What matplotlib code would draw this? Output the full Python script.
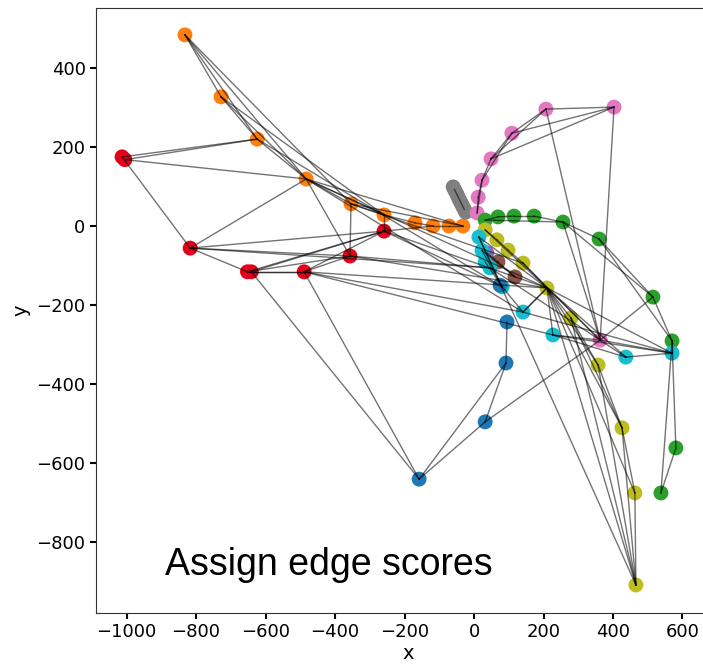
import numpy as np
import matplotlib.pyplot as plt

# node positions per track
orange_x = [-832, -728, -624, -483, -354, -259, -170, -118, -72, -32]
orange_y = [484, 327, 220, 119, 56, 28, 8, 0, 0, 0]
red_x = [-1013, -1005, -817, -652, -641, -489, -357, -259]
red_y = [175, 168, -56, -116, -116, -116, -76, -13]
gray_x = [-60, -56, -52, -48, -44, -40, -36, -32, -28, -24]
gray_y = [99, 92, 85, 78, 70, 63, 56, 49, 42, 35]
pink_x = [9, 12, 23, 49, 109, 207, 403, 363]
pink_y = [33, 73, 116, 170, 235, 296, 301, -289]
green_x = [32, 69, 115, 173, 256, 360, 515, 570, 581, 538]
green_y = [15, 23, 25, 25, 10, -33, -180, -291, -562, -676]
olive_x = [32, 66, 98, 141, 210, 279, 357, 426, 463, 466]
olive_y = [-10, -35, -61, -94, -157, -233, -352, -511, -676, -909]
brown_x = [69, 118]
brown_y = [-91, -129]
purple_x = [37]
purple_y = [-68]
cyan_x = [14, 23, 32, 46, 81, 141, 227, 437, 570]
cyan_y = [-28, -62, -91, -106, -154, -218, -276, -332, -322]
blue_x = [75, 95, 92, 32, -158]
blue_y = [-150, -243, -347, -496, -641]

tracks = {
    "O": (orange_x, orange_y, "tab:orange"),
    "R": (red_x, red_y, "#e3001b"),
    "G": (gray_x, gray_y, "tab:gray"),
    "P": (pink_x, pink_y, "tab:pink"),
    "N": (green_x, green_y, "tab:green"),
    "Y": (olive_x, olive_y, "tab:olive"),
    "B": (brown_x, brown_y, "tab:brown"),
    "U": (purple_x, purple_y, "tab:purple"),
    "C": (cyan_x, cyan_y, "tab:cyan"),
    "L": (blue_x, blue_y, "tab:blue"),
}

# candidate edges: (track, index, track, index)
edges = [
    ("O", 0, "O", 1), ("O", 0, "O", 2), ("O", 0, "O", 3), ("O", 0, "O", 4),
    ("O", 1, "O", 2), ("O", 1, "O", 3), ("O", 1, "O", 5), ("O", 2, "O", 3),
    ("O", 3, "O", 4), ("O", 3, "O", 5), ("O", 4, "O", 5), ("O", 5, "O", 6),
    ("O", 6, "O", 7), ("O", 7, "O", 8), ("O", 8, "O", 9), ("O", 3, "O", 9),
    ("O", 4, "O", 9), ("O", 3, "Y", 4), ("O", 3, "C", 5), ("O", 2, "C", 4),
    ("O", 4, "Y", 3), ("O", 3, "R", 6), ("O", 4, "R", 6),
    ("R", 0, "R", 2), ("R", 1, "O", 2), ("R", 0, "O", 2), ("R", 1, "O", 3),
    ("R", 2, "R", 3), ("R", 2, "O", 3), ("R", 2, "R", 7), ("R", 2, "R", 6),
    ("R", 2, "C", 3), ("R", 3, "R", 5), ("R", 4, "R", 5), ("R", 3, "R", 6),
    ("R", 3, "R", 7), ("R", 4, "R", 7), ("R", 5, "R", 6), ("R", 5, "R", 7),
    ("R", 5, "Y", 4), ("R", 5, "C", 5), ("R", 5, "C", 6), ("R", 5, "L", 4),
    ("R", 4, "L", 4), ("R", 6, "Y", 4), ("R", 7, "O", 5), ("R", 7, "O", 7),
    ("R", 7, "C", 4), ("R", 7, "Y", 4), ("R", 6, "C", 3),
    ("L", 4, "L", 3), ("L", 4, "L", 2), ("L", 3, "L", 2), ("L", 2, "L", 1),
    ("L", 3, "P", 7),
    ("G", 1, "G", 8),
    ("P", 0, "P", 1), ("P", 1, "P", 2), ("P", 2, "P", 3), ("P", 3, "P", 4),
    ("P", 4, "P", 5), ("P", 0, "P", 2), ("P", 2, "P", 4), ("P", 3, "P", 5),
    ("P", 3, "P", 6), ("P", 4, "P", 6), ("P", 5, "P", 6), ("P", 5, "P", 7),
    ("P", 6, "P", 7),
    ("N", 0, "N", 1), ("N", 1, "N", 2), ("N", 2, "N", 3), ("N", 3, "N", 4),
    ("N", 0, "N", 4), ("N", 4, "N", 5), ("N", 5, "N", 6), ("N", 4, "N", 6),
    ("N", 6, "N", 7), ("N", 5, "N", 7), ("N", 7, "C", 8), ("N", 7, "N", 8),
    ("N", 7, "N", 9), ("N", 8, "N", 9), ("N", 6, "P", 7), ("N", 4, "P", 7),
    ("Y", 0, "Y", 1), ("Y", 1, "Y", 2), ("Y", 2, "Y", 3), ("Y", 3, "Y", 4),
    ("Y", 0, "Y", 4), ("Y", 4, "Y", 5), ("Y", 5, "Y", 6), ("Y", 4, "Y", 6),
    ("Y", 4, "Y", 7), ("Y", 4, "Y", 8), ("Y", 4, "Y", 9), ("Y", 5, "Y", 7),
    ("Y", 6, "Y", 7), ("Y", 7, "Y", 8), ("Y", 8, "Y", 9), ("Y", 7, "Y", 9),
    ("Y", 6, "Y", 9), ("Y", 5, "Y", 9), ("Y", 4, "C", 5), ("Y", 4, "C", 6),
    ("Y", 4, "C", 7), ("Y", 4, "C", 8), ("Y", 4, "P", 7), ("Y", 3, "P", 7),
    ("C", 0, "Y", 4), ("C", 0, "C", 4), ("C", 1, "C", 4), ("C", 2, "C", 4),
    ("C", 0, "Y", 9), ("C", 4, "C", 5), ("C", 5, "Y", 4), ("C", 3, "P", 7),
    ("C", 6, "P", 7), ("P", 7, "C", 7), ("C", 7, "C", 8), ("P", 7, "C", 8),
    ("C", 6, "C", 8), ("C", 5, "C", 8), ("C", 6, "C", 7),
    ("B", 0, "B", 1), ("U", 0, "B", 0), ("C", 1, "B", 1),
]

fig = plt.figure(figsize=(7.03, 6.64), dpi=100)
ax = fig.add_axes([96 / 703, 51 / 664, 624 / 703, 605 / 664])

for t1, i1, t2, i2 in edges:
    xs1, ys1, _ = tracks[t1]
    xs2, ys2, _ = tracks[t2]
    ax.plot([xs1[i1], xs2[i2]], [ys1[i1], ys2[i2]], color="black",
            lw=1.0, alpha=0.55, zorder=3)

for key, (xs, ys, col) in tracks.items():
    ax.scatter(xs, ys, s=115, color=col, edgecolors="none", zorder=2)

ax.text(-890, -858, "Assign edge scores", fontsize=27,
        family="Liberation Sans", ha="left", va="center")

ax.set_xlim(-1088, 708)
ax.set_ylim(-980, 552)
ax.set_xticks(np.arange(-1000, 601, 200))
ax.set_yticks(np.arange(-800, 401, 200))
ax.tick_params(labelsize=13, length=4, width=1.5)
ax.set_xlabel("x", fontsize=14, labelpad=2)
ax.set_ylabel("y", fontsize=14, labelpad=4)
ax.spines["right"].set_visible(False)
for s in ["left", "top", "bottom"]:
    ax.spines[s].set_color("#333333")

fig.savefig("out.png", dpi=100)
